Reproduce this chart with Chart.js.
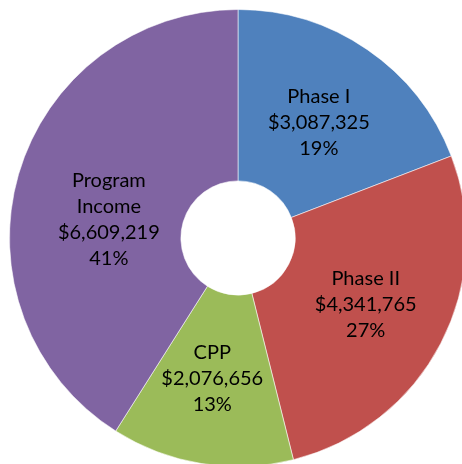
<!DOCTYPE html>
<html>
<head>
<meta charset="utf-8">
<script src="https://cdn.jsdelivr.net/npm/chart.js@4/dist/chart.umd.min.js"></script>
<style>
  html, body { margin: 0; padding: 0; background: #fff; overflow: hidden; width: 462px; height: 464px; }
  #wrap { position: absolute; left: 0; top: 0; width: 476px; height: 476px; }
</style>
</head>
<body>
<div id="wrap"><canvas id="c" width="476" height="476"></canvas></div>
<script>
const categories = ['Phase I', 'Phase II', 'CPP', 'Program Income'];
const amounts = [3087325, 4341765, 2076656, 6609219];
const sliceColors = ['#4F81BD', '#C0504D', '#9BBB59', '#8064A2'];

const total = amounts.reduce((a, b) => a + b, 0);

const labelPlugin = {
  id: 'sliceLabels',
  afterDatasetsDraw(chart, args, opts) {
    const ctx = chart.ctx;
    const meta = chart.getDatasetMeta(0);
    ctx.save();
    ctx.font = opts.font;
    ctx.fillStyle = opts.color;
    ctx.textAlign = 'center';
    ctx.textBaseline = 'middle';
    meta.data.forEach((arc, i) => {
      const p = arc.tooltipPosition();
      const name = categories[i];
      const nameLines = ctx.measureText(name).width > opts.wrapWidth ? name.split(' ') : [name];
      const pct = Math.round(amounts[i] / total * 100) + '%';
      const lines = nameLines.concat(['$' + amounts[i].toLocaleString('en-US'), pct]);
      const off = (opts.offsets && opts.offsets[i]) || [0, 0];
      const lh = opts.lineHeight;
      const y0 = p.y + off[1] - (lines.length - 1) * lh / 2;
      lines.forEach((t, k) => ctx.fillText(t, p.x + off[0], y0 + k * lh));
    });
    ctx.restore();
  }
};

new Chart(document.getElementById('c'), {
  type: 'doughnut',
  data: {
    labels: categories,
    datasets: [{
      data: amounts,
      backgroundColor: sliceColors,
      borderColor: 'rgba(255,255,255,0.55)',
      borderWidth: 1
    }]
  },
  options: {
    responsive: false,
    animation: false,
    cutout: '25%',
    rotation: 0,
    layout: { padding: 9 },
    plugins: {
      legend: { display: false },
      tooltip: { enabled: false },
      sliceLabels: {
        font: '20px Lato, "Liberation Sans", sans-serif',
        color: '#000',
        lineHeight: 26,
        wrapWidth: 110,
        offsets: [[0, 2], [1, 1], [-3, 0], [8, 21]]
      }
    }
  },
  plugins: [labelPlugin]
});
</script>
</body>
</html>
